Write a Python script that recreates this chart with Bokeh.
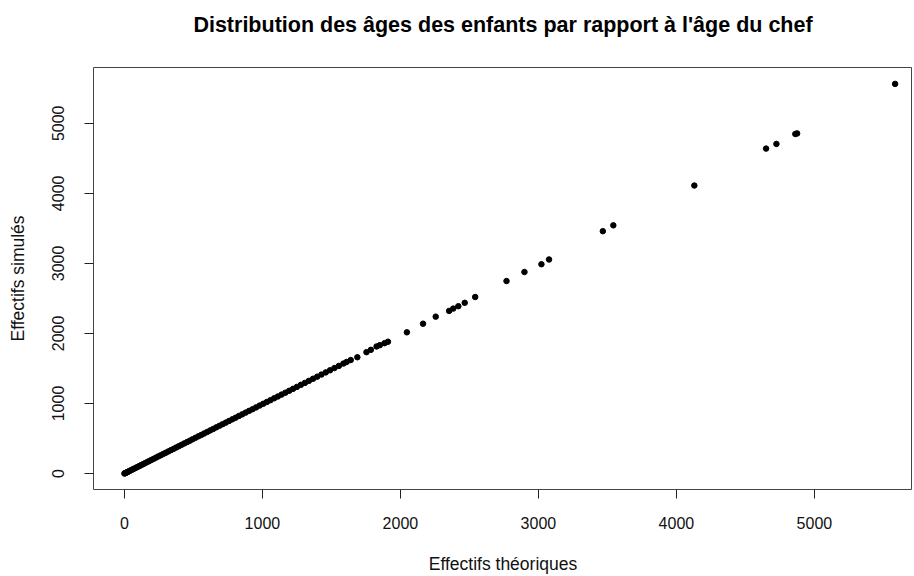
from bokeh.plotting import figure
from bokeh.embed import file_html
from bokeh.resources import INLINE
from bokeh.models import Range1d, FixedTicker, ColumnDataSource, LinearAxis

# Effectifs théoriques (x) et simulés (y)
theo_dense = [0, 4, 8, 13, 19, 26, 34, 43, 52, 62,
              73, 85, 97, 110, 123, 137, 151, 166, 181, 197,
              213, 230, 247, 264, 282, 300, 318, 337, 356, 375,
              394, 414, 434, 454, 474, 494, 515, 536, 557, 578,
              600, 622, 644, 666, 689, 712, 735, 758, 782, 806,
              830, 854, 879, 904, 929, 954, 980, 1006, 1032, 1058,
              1085, 1112, 1139, 1166, 1194, 1222, 1250, 1279, 1308, 1337,
              1367, 1397, 1428, 1459, 1490, 1522, 1554, 1587, 1610, 1640]
simu_dense = [0, 4, 9, 12, 19, 25, 34, 42, 52, 61,
              72, 84, 96, 109, 122, 135, 150, 164, 180, 195,
              211, 228, 245, 261, 280, 297, 315, 334, 352, 371,
              390, 410, 430, 449, 469, 489, 510, 531, 551, 572,
              594, 616, 637, 659, 682, 705, 727, 750, 774, 797,
              822, 845, 870, 895, 919, 944, 970, 996, 1021, 1047,
              1074, 1100, 1127, 1154, 1181, 1209, 1237, 1266, 1294, 1323,
              1353, 1383, 1413, 1444, 1474, 1506, 1537, 1570, 1593, 1620]

theo_sparse = [1688, 1754, 1786, 1827, 1851, 1885, 1910, 2047, 2164, 2256,
               2353, 2383, 2420, 2466, 2542, 2769, 2899, 3022, 3077, 3467,
               3543, 4130, 4650, 4725, 4862, 4875, 5585]
simu_sparse = [1660, 1733, 1766, 1814, 1833, 1861, 1882, 2016, 2139, 2240,
               2322, 2355, 2389, 2437, 2520, 2748, 2877, 2988, 3056, 3460,
               3543, 4112, 4639, 4706, 4848, 4856, 5563]

x_ticks = [0, 1000, 2000, 3000, 4000, 5000]
y_ticks = [0, 1000, 2000, 3000, 4000, 5000]

TITLE = "Distribution des âges des enfants par rapport à l'âge du chef"
FONT = "Liberation Sans"

src = ColumnDataSource(dict(x=theo_dense + theo_sparse, y=simu_dense + simu_sparse))

p = figure(width=912, height=576, output_backend="svg", toolbar_location=None,
           x_range=Range1d(-224, 5711), y_range=Range1d(-228, 5797),
           min_border_left=93, min_border_right=0, min_border_top=67,
           min_border_bottom=85)

p.scatter("x", "y", source=src, size=5.5, color="black", line_color="black")

p.grid.visible = False
p.background_fill_color = "white"
p.border_fill_color = "white"
p.outline_line_color = "#444444"
p.outline_line_width = 1

xa = p.below[0]
ya = p.left[0]

for ax in (xa, ya):
    ax.axis_line_color = None
    ax.major_tick_line_color = "#222222"
    ax.major_tick_in = 0
    ax.major_tick_out = 9
    ax.minor_tick_line_color = None
    ax.major_label_text_font = FONT
    ax.major_label_text_font_size = "16px"
    ax.major_label_text_color = "#111111"
    ax.axis_label_text_font = FONT
    ax.axis_label_text_font_size = "17.5px"
    ax.axis_label_text_font_style = "normal"
    ax.axis_label_text_color = "#111111"

xa.ticker = FixedTicker(ticks=x_ticks)
ya.ticker = FixedTicker(ticks=y_ticks)
xa.axis_label = "Effectifs théoriques"
ya.axis_label = "Effectifs simulés"
xa.major_label_standoff = 18
xa.axis_label_standoff = 22
ya.major_label_orientation = "vertical"
ya.major_label_standoff = 20
ya.axis_label_standoff = 22

# titre : étiquette d'un axe supérieur sans graduations
title_axis = LinearAxis(ticker=FixedTicker(ticks=[]), axis_label=TITLE,
                        axis_line_color=None, major_tick_line_color=None,
                        minor_tick_line_color=None, major_tick_out=0,
                        major_tick_in=0, major_label_standoff=0,
                        axis_label_standoff=31,
                        axis_label_text_font=FONT,
                        axis_label_text_font_size="21.5px",
                        axis_label_text_font_style="bold",
                        axis_label_text_color="black")
p.add_layout(title_axis, "above")

open("out.html", "w").write(file_html(p, INLINE))
